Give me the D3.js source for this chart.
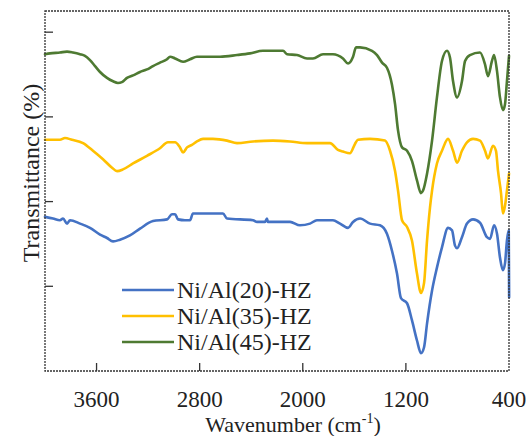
<!DOCTYPE html>
<html>
<head>
  <title>FTIR spectra</title>
  <style>
    body { margin: 0; background: #fff; }
    .frame { fill: none; stroke: #333; stroke-width: 1.3; stroke-dasharray: 2,1; }
    .tick-line { stroke: #333; stroke-width: 1.3; }
    .spectrum { fill: none; stroke-width: 2.6; stroke-linejoin: round; stroke-linecap: round; }
  </style>
</head>
<body>
  <svg id="chart" width="531" height="436"></svg>

  <script src="https://d3js.org/d3.v7.min.js"></script>
  <script>
    // series names and colours
    const seriesNames = ['Ni/Al(20)-HZ', 'Ni/Al(35)-HZ', 'Ni/Al(45)-HZ'];
    const seriesColors = ['#4472C4', '#FFC000', '#4E7A32'];

    // x tick labels (wavenumber, reversed axis)
    const xTicks = [3600, 2800, 2000, 1200, 400];
    const yTicks = [1, 2, 3, 4];

    // Ni/Al(20)-HZ (blue, bottom)
    const wn20 = [4000, 3938, 3884, 3860, 3829, 3806, 3728, 3651, 3573, 3519, 3472, 3418, 3341, 3263, 3162, 3053, 3015, 2991, 2968, 2914, 2875, 2852, 2619, 2588, 2386, 2355, 2293, 2278, 2270, 2099, 2022, 1944, 1890, 1766, 1711, 1649, 1610, 1556, 1478, 1401, 1347, 1308, 1269, 1238, 1191, 1153, 1114, 1083, 1059, 1036, 997, 959, 920, 873, 842, 819, 803, 765, 726, 679, 625, 571, 547, 516, 493, 470, 447, 431, 416, 402, 399];
    const t20 = [1.82, 1.80, 1.78, 1.80, 1.74, 1.78, 1.74, 1.69, 1.61, 1.57, 1.53, 1.55, 1.60, 1.68, 1.77, 1.79, 1.85, 1.85, 1.79, 1.78, 1.78, 1.86, 1.86, 1.80, 1.78, 1.76, 1.76, 1.80, 1.76, 1.76, 1.72, 1.74, 1.78, 1.78, 1.74, 1.69, 1.76, 1.80, 1.74, 1.72, 1.62, 1.42, 1.15, 0.86, 0.80, 0.60, 0.36, 0.21, 0.28, 0.56, 0.95, 1.22, 1.46, 1.69, 1.66, 1.48, 1.45, 1.58, 1.74, 1.79, 1.75, 1.58, 1.56, 1.72, 1.62, 1.34, 1.19, 1.27, 1.54, 1.66, 0.87];

    // Ni/Al(35)-HZ (yellow, middle)
    const wn35 = [4000, 3884, 3845, 3791, 3705, 3628, 3550, 3480, 3441, 3395, 3317, 3209, 3108, 3046, 2991, 2953, 2929, 2898, 2860, 2821, 2774, 2697, 2588, 2510, 2386, 2231, 2099, 1967, 1789, 1727, 1688, 1634, 1595, 1572, 1478, 1362, 1323, 1284, 1261, 1230, 1191, 1153, 1114, 1083, 1059, 1036, 1013, 997, 959, 920, 873, 834, 803, 765, 726, 679, 625, 586, 563, 524, 501, 485, 462, 447, 431, 416, 400];
    const t35 = [2.73, 2.73, 2.75, 2.73, 2.69, 2.60, 2.50, 2.40, 2.36, 2.38, 2.45, 2.54, 2.63, 2.70, 2.70, 2.64, 2.58, 2.64, 2.67, 2.71, 2.74, 2.74, 2.72, 2.69, 2.71, 2.72, 2.71, 2.69, 2.69, 2.61, 2.59, 2.57, 2.68, 2.73, 2.74, 2.72, 2.60, 2.36, 2.13, 1.78, 1.70, 1.54, 1.15, 0.92, 1.04, 1.54, 1.93, 2.13, 2.45, 2.60, 2.74, 2.60, 2.46, 2.60, 2.70, 2.74, 2.72, 2.60, 2.51, 2.66, 2.60, 2.36, 2.10, 1.86, 1.95, 2.13, 2.33];

    // Ni/Al(45)-HZ (green, top)
    const wn45 = [4000, 3961, 3884, 3829, 3783, 3728, 3690, 3651, 3612, 3573, 3519, 3472, 3434, 3403, 3364, 3317, 3263, 3209, 3162, 3108, 3053, 3030, 2991, 2929, 2875, 2821, 2642, 2510, 2409, 2309, 2153, 2122, 2045, 1967, 1921, 1843, 1766, 1688, 1649, 1610, 1587, 1556, 1463, 1424, 1385, 1347, 1308, 1284, 1261, 1230, 1191, 1153, 1114, 1083, 1067, 1036, 997, 959, 920, 881, 858, 834, 803, 765, 741, 703, 625, 586, 563, 532, 516, 493, 470, 447, 431, 416, 400];
    const t45 = [3.74, 3.75, 3.76, 3.77, 3.76, 3.74, 3.72, 3.67, 3.60, 3.53, 3.46, 3.42, 3.40, 3.41, 3.46, 3.49, 3.53, 3.56, 3.60, 3.64, 3.68, 3.71, 3.69, 3.65, 3.68, 3.71, 3.71, 3.73, 3.75, 3.78, 3.78, 3.74, 3.73, 3.69, 3.69, 3.74, 3.74, 3.69, 3.63, 3.71, 3.82, 3.82, 3.78, 3.73, 3.64, 3.58, 3.38, 3.15, 2.84, 2.64, 2.60, 2.48, 2.25, 2.10, 2.13, 2.33, 2.72, 3.23, 3.66, 3.78, 3.70, 3.42, 3.23, 3.42, 3.66, 3.73, 3.76, 3.62, 3.48, 3.66, 3.73, 3.54, 3.23, 3.08, 3.15, 3.42, 3.72];

    const series = [
      { name: seriesNames[0], color: seriesColors[0], wn: wn20, t: t20 },
      { name: seriesNames[1], color: seriesColors[1], wn: wn35, t: t35 },
      { name: seriesNames[2], color: seriesColors[2], wn: wn45, t: t45 }
    ];

    const FONT = "'Liberation Serif', 'Times New Roman', 'DejaVu Serif', serif";

    const svg = d3.select('#chart')
      .attr('font-family', FONT);
    const plot = { left: 45, right: 509, top: 11, bottom: 371 };

    const x = d3.scaleLinear().domain([4000, 400]).range([plot.left, plot.right]);
    const y = d3.scaleLinear().domain([0, 4.25]).range([plot.bottom, plot.top]);

    // curves
    const line = d3.line()
      .x(d => x(d[0]))
      .y(d => y(d[1]))
      .curve(d3.curveMonotoneX);

    series.slice().reverse().forEach(s => {
      svg.append('path')
        .attr('class', 'spectrum')
        .attr('stroke', s.color)
        .attr('d', line(d3.zip(s.wn, s.t)));
    });

    // frame
    svg.append('rect')
      .attr('class', 'frame')
      .attr('x', plot.left)
      .attr('y', plot.top)
      .attr('width', plot.right - plot.left)
      .attr('height', plot.bottom - plot.top);

    // bottom ticks (inward) and labels
    const xAxis = svg.append('g');
    xAxis.selectAll('line')
      .data(xTicks.filter(v => v !== 400))
      .enter().append('line')
      .attr('class', 'tick-line')
      .attr('x1', d => x(d)).attr('x2', d => x(d))
      .attr('y1', plot.bottom).attr('y2', plot.bottom - 8);
    xAxis.selectAll('text')
      .data(xTicks)
      .enter().append('text')
      .attr('x', d => x(d))
      .attr('y', 407)
      .attr('text-anchor', 'middle')
      .attr('font-family', FONT)
      .attr('font-size', 23)
      .attr('fill', '#222')
      .text(d => d);

    // left ticks (inward, no labels)
    svg.append('g').selectAll('line')
      .data(yTicks)
      .enter().append('line')
      .attr('class', 'tick-line')
      .attr('x1', plot.left).attr('x2', plot.left + 8)
      .attr('y1', d => y(d)).attr('y2', d => y(d));

    // axis titles
    const xt = svg.append('text')
      .attr('x', 293)
      .attr('y', 432)
      .attr('text-anchor', 'middle')
      .attr('font-family', FONT)
      .attr('font-size', 22)
      .attr('fill', '#222');
    xt.append('tspan').text('Wavenumber (cm');
    xt.append('tspan').attr('dy', -9).attr('font-size', 14).text('-1');
    xt.append('tspan').attr('dy', 9).text(')');

    svg.append('text')
      .attr('transform', 'translate(39,173) rotate(-90)')
      .attr('text-anchor', 'middle')
      .attr('font-family', FONT)
      .attr('font-size', 24)
      .attr('fill', '#222')
      .text('Transmittance (%)');

    // legend
    const legend = svg.append('g');
    series.forEach((s, i) => {
      const ly = 290 + i * 26;
      legend.append('line')
        .attr('x1', 122).attr('x2', 174)
        .attr('y1', ly).attr('y2', ly)
        .attr('stroke', s.color)
        .attr('stroke-width', 2.6);
      legend.append('text')
        .attr('x', 177)
        .attr('y', ly)
        .attr('dy', '0.33em')
        .attr('font-family', FONT)
        .attr('font-size', 24)
        .attr('fill', '#222')
        .text(s.name);
    });
  </script>
</body>
</html>
